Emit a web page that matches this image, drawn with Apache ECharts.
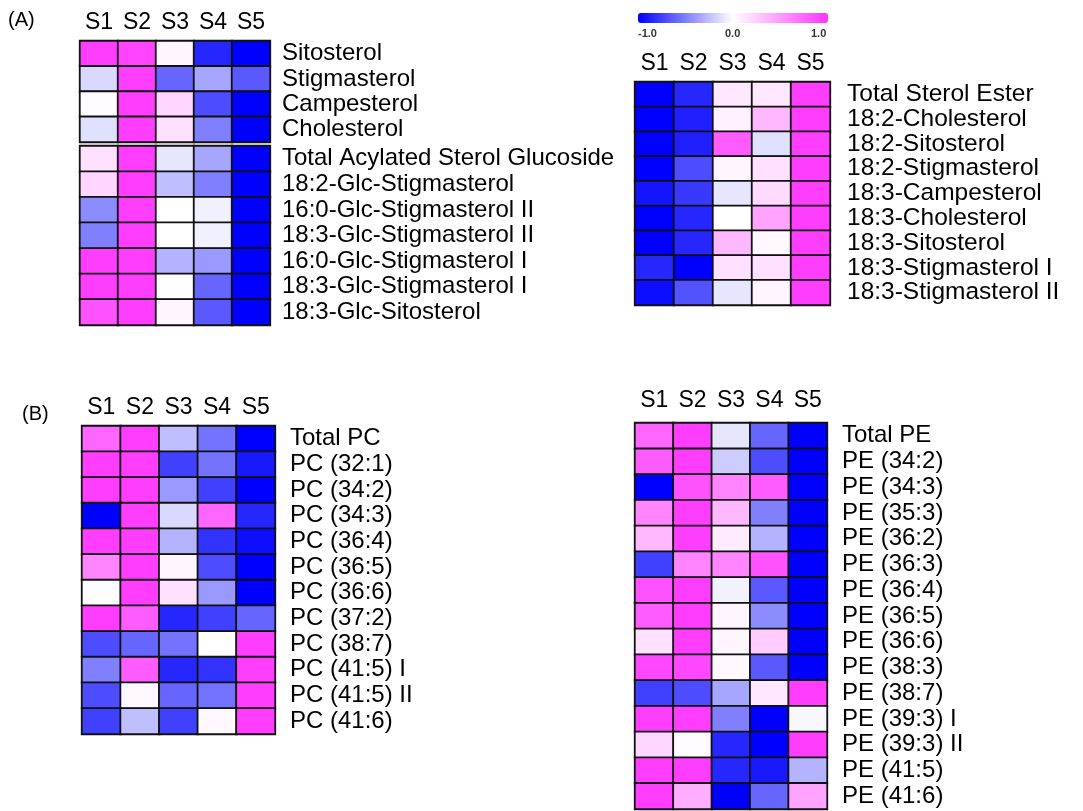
<!DOCTYPE html>
<html>
<head>
<meta charset="utf-8">
<script src="https://cdn.jsdelivr.net/npm/echarts@6/dist/echarts.min.js"></script>
<style>
  html, body { margin: 0; padding: 0; background: #fff; }
  #chart { width: 1083px; height: 811px; }
</style>
</head>
<body>
<div id="chart"></div>
<script>
// Column labels shared by every heatmap
const samples = ['S1', 'S2', 'S3', 'S4', 'S5'];

// (A) free sterols
const freeSterols = ['Sitosterol', 'Stigmasterol', 'Campesterol', 'Cholesterol'];
const freeSterolValues = [
  [0.95, 0.92, 0.05, -0.85, -1.0],
  [-0.15, 0.95, -0.6, -0.35, -0.65],
  [0.02, 0.95, 0.2, -0.7, -1.0],
  [-0.12, 0.95, 0.15, -0.5, -1.0]
];

// (A) acylated sterol glucosides
const glucosides = [
  'Total Acylated Sterol Glucoside', '18:2-Glc-Stigmasterol', '16:0-Glc-Stigmasterol II',
  '18:3-Glc-Stigmasterol II', '16:0-Glc-Stigmasterol I', '18:3-Glc-Stigmasterol I', '18:3-Glc-Sitosterol'
];
const glucosideValues = [
  [0.15, 0.95, -0.1, -0.35, -1.0],
  [0.2, 0.95, -0.25, -0.5, -1.0],
  [-0.45, 0.95, 0.0, -0.06, -1.0],
  [-0.5, 0.95, 0.0, -0.06, -1.0],
  [0.95, 0.95, -0.3, -0.4, -1.0],
  [0.95, 0.95, 0.0, -0.6, -1.0],
  [0.85, 0.95, 0.05, -0.65, -1.0]
];

// (A) sterol esters
const sterolEsters = [
  'Total Sterol Ester', '18:2-Cholesterol', '18:2-Sitosterol', '18:2-Stigmasterol', '18:3-Campesterol',
  '18:3-Cholesterol', '18:3-Sitosterol', '18:3-Stigmasterol I', '18:3-Stigmasterol II'
];
const sterolEsterValues = [
  [-1.0, -0.85, 0.12, 0.12, 0.95],
  [-1.0, -0.88, 0.07, 0.35, 0.95],
  [-1.0, -0.88, 0.8, -0.12, 0.95],
  [-1.0, -0.7, 0.05, 0.15, 0.95],
  [-0.92, -0.78, -0.1, 0.18, 0.95],
  [-1.0, -0.85, 0.0, 0.45, 0.95],
  [-1.0, -0.85, 0.35, 0.03, 0.95],
  [-0.85, -1.0, 0.15, 0.15, 0.95],
  [-0.95, -0.68, -0.1, 0.05, 0.95]
];

// (B) phosphatidylcholines
const pcSpecies = [
  'Total PC', 'PC (32:1)', 'PC (34:2)', 'PC (34:3)', 'PC (36:4)', 'PC (36:5)', 'PC (36:6)',
  'PC (37:2)', 'PC (38:7)', 'PC (41:5) I', 'PC (41:5) II', 'PC (41:6)'
];
const pcValues = [
  [0.75, 0.95, -0.25, -0.55, -1.0],
  [0.95, 0.95, -0.75, -0.55, -0.9],
  [0.95, 0.95, -0.4, -0.75, -1.0],
  [-1.0, 0.95, -0.15, 0.75, -0.85],
  [0.95, 0.95, -0.3, -0.8, -0.95],
  [0.6, 0.95, 0.05, -0.7, -1.0],
  [0.0, 0.95, 0.15, -0.4, -1.0],
  [0.95, 0.8, -0.85, -0.75, -0.6],
  [-0.7, -0.6, -0.55, 0.0, 0.95],
  [-0.5, 0.8, -0.85, -0.8, 0.95],
  [-0.7, 0.03, -0.6, -0.55, 0.95],
  [-0.75, -0.25, -0.75, 0.03, 0.95]
];

// (B) phosphatidylethanolamines
const peSpecies = [
  'Total PE', 'PE (34:2)', 'PE (34:3)', 'PE (35:3)', 'PE (36:2)', 'PE (36:3)', 'PE (36:4)', 'PE (36:5)',
  'PE (36:6)', 'PE (38:3)', 'PE (38:7)', 'PE (39:3) I', 'PE (39:3) II', 'PE (41:5)', 'PE (41:6)'
];
const peValues = [
  [0.75, 0.95, -0.1, -0.6, -1.0],
  [0.8, 0.95, -0.2, -0.7, -1.0],
  [-1.0, 0.85, 0.6, 0.8, -1.0],
  [0.6, 0.95, 0.35, -0.5, -1.0],
  [0.35, 0.95, 0.1, -0.3, -1.0],
  [-0.75, 0.6, 0.6, 0.85, -1.0],
  [0.85, 0.95, -0.05, -0.65, -1.0],
  [0.8, 0.95, 0.05, -0.45, -1.0],
  [0.15, 0.95, 0.05, 0.25, -1.0],
  [0.9, 0.9, 0.03, -0.65, -1.0],
  [-0.75, -0.7, -0.35, 0.12, 0.95],
  [0.95, 0.95, -0.5, -1.0, -0.03],
  [0.2, 0.02, -0.85, -1.0, 0.95],
  [0.95, 0.95, -0.85, -0.9, -0.3],
  [0.95, 0.4, -1.0, -0.6, 0.45]
];

// Colour scale ticks
const scaleTicks = ['-1.0', '0.0', '1.0'];

const FONT = '"Liberation Sans", Arial, Helvetica, sans-serif';

// One block per heatmap: rows, values, grid box, label sizes and margins
const blocks = [
  { rows: freeSterols, values: freeSterolValues, grid: { left: 80, top: 41, width: 190, height: 101 }, showCols: true, colMargin: 7, rowMargin: 12, rowFont: 24 },
  { rows: glucosides, values: glucosideValues, grid: { left: 80, top: 146, width: 190, height: 179 }, showCols: false, colMargin: 7, rowMargin: 12, rowFont: 24 },
  { rows: sterolEsters, values: sterolEsterValues, grid: { left: 635, top: 82, width: 195, height: 223 }, showCols: true, colMargin: 7, rowMargin: 17, rowFont: 24.5 },
  { rows: pcSpecies, values: pcValues, grid: { left: 82, top: 426, width: 193, height: 308 }, showCols: true, colMargin: 7, rowMargin: 15, rowFont: 24 },
  { rows: peSpecies, values: peValues, grid: { left: 635, top: 423, width: 192, height: 386 }, showCols: true, colMargin: 11, rowMargin: 15, rowFont: 24 }
];

const grids = [], xAxes = [], yAxes = [], series = [];
blocks.forEach((b, i) => {
  grids.push(Object.assign({ show: true, borderColor: '#6a6a6a', borderWidth: 1, containLabel: false }, b.grid));
  xAxes.push({
    type: 'category', gridIndex: i, position: 'top', data: samples,
    axisLine: { show: false }, axisTick: { show: false }, splitLine: { show: false },
    axisLabel: { show: b.showCols, interval: 0, fontSize: 23, color: '#000', fontFamily: FONT, margin: b.colMargin }
  });
  yAxes.push({
    type: 'category', gridIndex: i, position: 'right', inverse: true, data: b.rows,
    axisLine: { show: false }, axisTick: { show: false }, splitLine: { show: false },
    axisLabel: { interval: 0, hideOverlap: false, fontSize: b.rowFont, color: '#000', fontFamily: FONT, margin: b.rowMargin, align: 'left' }
  });
  const data = [];
  b.values.forEach((row, r) => row.forEach((v, c) => data.push([c, r, v])));
  series.push({
    type: 'heatmap', xAxisIndex: i, yAxisIndex: i, data: data,
    itemStyle: { borderColor: '#111', borderWidth: 1.8 },
    emphasis: { disabled: true }, silent: true
  });
});

const chart = echarts.init(document.getElementById('chart'));
chart.setOption({
  backgroundColor: '#fff',
  animation: false,
  grid: grids,
  xAxis: xAxes,
  yAxis: yAxes,
  series: series,
  visualMap: {
    type: 'continuous', min: -1, max: 1, calculable: false,
    orient: 'horizontal', left: 638, top: 13, itemWidth: 10, itemHeight: 190, padding: 0,
    inRange: { color: ['#0000ff', '#ffffff', '#ff33ff'] },
    seriesIndex: [0, 1, 2, 3, 4], hoverLink: false
  },
  graphic: [
    { type: 'text', left: 8, top: 10, style: { text: '(A)', font: '20px ' + FONT, fill: '#000' } },
    { type: 'text', left: 22, top: 404, style: { text: '(B)', font: '20px ' + FONT, fill: '#000' } },
    { type: 'text', left: 638, top: 28, style: { text: scaleTicks[0], font: 'bold 11px ' + FONT, fill: '#333' } },
    { type: 'text', left: 725, top: 28, style: { text: scaleTicks[1], font: 'bold 11px ' + FONT, fill: '#333' } },
    { type: 'text', left: 811, top: 28, style: { text: scaleTicks[2], font: 'bold 11px ' + FONT, fill: '#333' } }
  ]
});
</script>
</body>
</html>
